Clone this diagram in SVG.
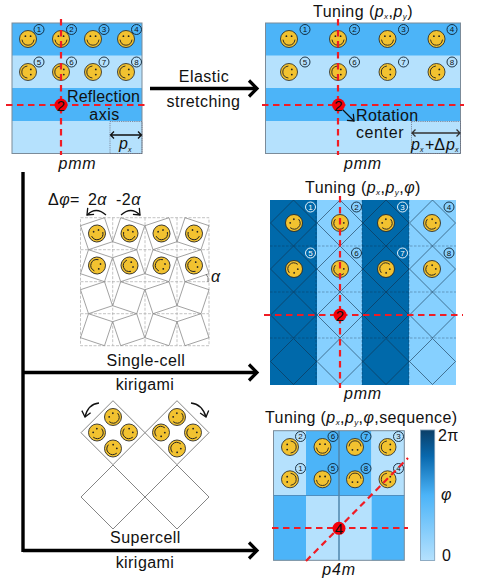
<svg xmlns="http://www.w3.org/2000/svg" width="495" height="585" viewBox="0 0 495 585">
<style>
text{font-family:"Liberation Sans",Arial,sans-serif;fill:#111}
.t{font-size:16px;letter-spacing:.45px}
.i{font-style:italic}
.s{font-size:8px;font-style:italic}
.c{text-anchor:middle}
.b{fill:#4cb4f8}.l{fill:#b5e1fd}.db{fill:#0069aa}.lb{fill:#86d0ff}
.fr{fill:none;stroke:#7b8b99;stroke-width:1}
.red{fill:none;stroke:#f01c24;stroke-width:2.2;stroke-dasharray:6.500 4.500}
.dot{fill:#f5000a}
.num{fill:none;stroke:#0d2233;stroke-width:.9}
.n{font-size:8px;text-anchor:middle}
.w{fill:#fff}.wr{fill:none;stroke:#fff;stroke-width:.9}
.main{fill:none;stroke:#000;stroke-width:3.4;marker-end:url(#big)}
.tiny{fill:none;stroke:#111;stroke-width:1.2;marker-end:url(#small)}
.dotted{fill:none;stroke:#667;stroke-width:.7;stroke-dasharray:1.2 1}
.grid{stroke:#aaa;stroke-width:.7;stroke-dasharray:3 1.5;fill:none}
.kg{fill:none;stroke:#8a8a8a;stroke-width:.8}
</style>
<defs>
<marker id="big" markerUnits="userSpaceOnUse" markerWidth="14" markerHeight="22" refX="11" refY="11" orient="auto"><path d="M3 3L11 11L3 19" fill="none" stroke="#000" stroke-width="3.2"/></marker>
<marker id="small" markerUnits="userSpaceOnUse" markerWidth="10" markerHeight="12" refX="7.5" refY="6" orient="auto"><path d="M2 1.5L7.5 6L2 10.5" fill="none" stroke="#111" stroke-width="1.3"/></marker>
<g id="sm"><circle r="8.500" fill="#f2c230" stroke="#222" stroke-width=".8"/><circle cx="-2.6" cy="-2.8" r=".9" fill="#222"/><circle cx="2.6" cy="-2.8" r=".9" fill="#222"/><path d="M-6 .6Q-5 6.200 0 6.200Q5 6.200 6 .6" fill="none" stroke="#222" stroke-width=".9"/></g>
<path id="da" d="M-23 0L0-23L23 0L0 23Z" fill="none" stroke="#11304a" stroke-opacity=".65" stroke-width=".9"/>
<path id="k1" d="M0 8L24 0L32 24L8 32Z" class="kg"/>
<path id="k2" d="M32 8L8 0L0 24L24 32Z" class="kg"/>
<path id="sd" d="M-32 0L0-32L32 0L0 32Z" fill="none" stroke="#777" stroke-width=".9"/>
</defs>

<g id="panel-a">
<rect class="b" x="12" y="23" width="130" height="33"/><rect class="l" x="12" y="55.500" width="130" height="33"/><rect class="b" x="12" y="88" width="130" height="33"/><rect class="l" x="12" y="121" width="130" height="32.500"/>
<rect class="fr" x="12" y="23" width="130" height="130.500"/>
<use href="#sm" x="28" y="39"/><use href="#sm" x="61" y="39"/><use href="#sm" x="93" y="39"/><use href="#sm" x="126" y="39"/>
<use href="#sm" transform="translate(28 72) rotate(90)"/><use href="#sm" transform="translate(61 72) rotate(90)"/><use href="#sm" transform="translate(93 72) rotate(90)"/><use href="#sm" transform="translate(126 72) rotate(90)"/>
<circle class="num" cx="39" cy="29.500" r="5"/><text class="n" x="39" y="32.300">1</text>
<circle class="num" cx="71.500" cy="29.500" r="5"/><text class="n" x="71.500" y="32.300">2</text>
<circle class="num" cx="104" cy="29.500" r="5"/><text class="n" x="104" y="32.300">3</text>
<circle class="num" cx="136.500" cy="29.500" r="5"/><text class="n" x="136.500" y="32.300">4</text>
<circle class="num" cx="39" cy="62" r="5"/><text class="n" x="39" y="64.800">5</text>
<circle class="num" cx="71.500" cy="62" r="5"/><text class="n" x="71.500" y="64.800">6</text>
<circle class="num" cx="104" cy="62" r="5"/><text class="n" x="104" y="64.800">7</text>
<circle class="num" cx="136.500" cy="62" r="5"/><text class="n" x="136.500" y="64.800">8</text>
<rect class="dotted" x="110" y="121.500" width="32" height="32"/>
<path d="M111 135H141M114 131.500L110.500 135L114 138.500M138 131.500L141.500 135L138 138.500" fill="none" stroke="#111" stroke-width="1.300"/>
<text class="t" x="67" y="102" style="letter-spacing:.2px">Reflection</text>
<text class="t c" x="104.500" y="120">axis</text>
<text class="t i" x="119" y="149">p</text><text class="s" x="128" y="152" style="font-size:7px">x</text>
<path class="red" d="M61 19V155M6 105H149"/>
<circle class="dot" cx="61" cy="105" r="6.500"/><text class="c" x="61" y="110.500" style="font-size:15px">2</text>
<text class="t i c" x="77.500" y="169" style="letter-spacing:.8px">pmm</text>
</g>

<g id="panel-b">
<rect class="b" x="265.500" y="23" width="195" height="33"/><rect class="l" x="265.500" y="55.500" width="195" height="33"/><rect class="b" x="265.500" y="88" width="195" height="33"/><rect class="l" x="265.500" y="121" width="195" height="32.500"/>
<rect class="fr" x="265.500" y="23" width="195" height="130.500"/>
<use href="#sm" x="289" y="39"/><use href="#sm" x="338" y="39"/><use href="#sm" x="387.500" y="39"/><use href="#sm" x="436.500" y="39"/>
<use href="#sm" transform="translate(289 72) rotate(90)"/><use href="#sm" transform="translate(338 72) rotate(90)"/><use href="#sm" transform="translate(387.500 72) rotate(90)"/><use href="#sm" transform="translate(436.500 72) rotate(90)"/>
<circle class="num" cx="305" cy="29.500" r="5"/><text class="n" x="305" y="32.300">1</text>
<circle class="num" cx="354.500" cy="29.500" r="5"/><text class="n" x="354.500" y="32.300">2</text>
<circle class="num" cx="403.500" cy="29.500" r="5"/><text class="n" x="403.500" y="32.300">3</text>
<circle class="num" cx="452" cy="29.500" r="5"/><text class="n" x="452" y="32.300">4</text>
<circle class="num" cx="305" cy="62" r="5"/><text class="n" x="305" y="64.800">5</text>
<circle class="num" cx="354.500" cy="62" r="5"/><text class="n" x="354.500" y="64.800">6</text>
<circle class="num" cx="403.500" cy="62" r="5"/><text class="n" x="403.500" y="64.800">7</text>
<circle class="num" cx="452" cy="62" r="5"/><text class="n" x="452" y="64.800">8</text>
<rect class="dotted" x="411.500" y="121.500" width="49" height="32"/>
<path d="M412 133H460M415.500 129.500L412 133L415.500 136.500M456.500 129.500L460 133L456.500 136.500" fill="none" stroke="#333" stroke-width="1.300"/>
<text class="t" x="356" y="121" style="letter-spacing:.35px">Rotation</text>
<text class="t" x="356" y="138" style="letter-spacing:.6px">center</text>
<text class="i" x="411" y="150" style="font-size:16px">p</text><text class="s" x="420" y="152" style="font-size:7px">x</text><text x="425" y="150" style="font-size:16px">+Δ</text><text class="i" x="446" y="150" style="font-size:16px">p</text><text class="s" x="455" y="152" style="font-size:7px">x</text>
<path class="red" d="M338 19V155M262 105H464"/>
<path class="tiny" d="M342 109L354 121"/>
<circle class="dot" cx="338.500" cy="105" r="6.500"/><text class="c" x="338.500" y="110.500" style="font-size:15px">2</text>
<text class="t i c" x="363" y="169" style="letter-spacing:.8px">pmm</text>
<text class="t" x="313" y="17">Tuning (<tspan class="i">p</tspan><tspan class="s" dy="2">x</tspan><tspan dy="-2">,</tspan><tspan class="i">p</tspan><tspan class="s" dy="2">y</tspan><tspan dy="-2">)</tspan></text>
</g>

<g id="panel-c">
<rect class="db" x="270" y="200" width="47" height="185"/><rect class="lb" x="317" y="200" width="45" height="185"/><rect class="db" x="362" y="200" width="47" height="185"/><rect class="lb" x="409" y="200" width="47" height="185"/>
<path d="M270 246H456M270 292H456M270 338H456M316 200V385M362 200V385M409 200V385" fill="none" stroke="#123" stroke-opacity=".45" stroke-width=".7" stroke-dasharray="2.500 1.500"/>
<use href="#da" x="293.500" y="223"/><use href="#da" x="340" y="223"/><use href="#da" x="386" y="223"/><use href="#da" x="432.500" y="223"/>
<use href="#da" x="293.500" y="269"/><use href="#da" x="340" y="269"/><use href="#da" x="386" y="269"/><use href="#da" x="432.500" y="269"/>
<use href="#da" x="293.500" y="315"/><use href="#da" x="340" y="315"/><use href="#da" x="386" y="315"/><use href="#da" x="432.500" y="315"/>
<use href="#da" x="293.500" y="361.500"/><use href="#da" x="340" y="361.500"/><use href="#da" x="386" y="361.500"/><use href="#da" x="432.500" y="361.500"/>
<use href="#sm" transform="translate(294 223) rotate(-45)"/><use href="#sm" transform="translate(340 223) rotate(45)"/><use href="#sm" transform="translate(386 223) rotate(-45)"/><use href="#sm" transform="translate(432 223) rotate(45)"/>
<use href="#sm" transform="translate(294 269) rotate(135)"/><use href="#sm" transform="translate(340 269) rotate(45)"/><use href="#sm" transform="translate(386 269) rotate(135)"/><use href="#sm" transform="translate(432 269) rotate(45)"/>
<circle class="wr" cx="310.500" cy="207" r="5"/><text class="n w" x="310.500" y="209.800">1</text>
<circle class="num" cx="356.500" cy="207" r="5"/><text class="n" x="356.500" y="209.800">2</text>
<circle class="wr" cx="402.500" cy="207" r="5"/><text class="n w" x="402.500" y="209.800">3</text>
<circle class="num" cx="449" cy="207" r="5"/><text class="n" x="449" y="209.800">4</text>
<circle class="wr" cx="310.500" cy="253" r="5"/><text class="n w" x="310.500" y="255.800">5</text>
<circle class="num" cx="356.500" cy="253" r="5"/><text class="n" x="356.500" y="255.800">6</text>
<circle class="wr" cx="402.500" cy="253" r="5"/><text class="n w" x="402.500" y="255.800">7</text>
<circle class="num" cx="449" cy="253" r="5"/><text class="n" x="449" y="255.800">8</text>
<path class="red" d="M340 196V388M264 315H463"/>
<circle class="dot" cx="340" cy="315" r="6.500"/><text class="c" x="340" y="320.500" style="font-size:15px">2</text>
<text class="t i c" x="363" y="399" style="letter-spacing:.8px">pmm</text>
<text class="t" x="305" y="193">Tuning (<tspan class="i">p</tspan><tspan class="s" dy="2">x</tspan><tspan dy="-2">,</tspan><tspan class="i">p</tspan><tspan class="s" dy="2">y</tspan><tspan dy="-2">,</tspan><tspan class="i">φ</tspan>)</text>
</g>

<g id="single-cell">
<path class="grid" d="M80.500 217.700H209V345.700H80.500ZM80.500 249.700H209M80.500 281.700H209M80.500 313.700H209M112.700 217.700V345.700M145 217.700V345.700M177 217.700V345.700"/>
<use href="#k1" x="80.500" y="217.700"/><use href="#k2" x="112.700" y="217.700"/><use href="#k1" x="145" y="217.700"/><use href="#k2" x="177" y="217.700"/>
<use href="#k2" x="80.500" y="249.700"/><use href="#k1" x="112.700" y="249.700"/><use href="#k2" x="145" y="249.700"/><use href="#k1" x="177" y="249.700"/>
<use href="#k1" x="80.500" y="281.700"/><use href="#k2" x="112.700" y="281.700"/><use href="#k1" x="145" y="281.700"/><use href="#k2" x="177" y="281.700"/>
<use href="#k2" x="80.500" y="313.700"/><use href="#k1" x="112.700" y="313.700"/><use href="#k2" x="145" y="313.700"/><use href="#k1" x="177" y="313.700"/>
<use href="#sm" transform="translate(97 233.500) rotate(-20)"/><use href="#sm" transform="translate(129.500 233.500) rotate(20)"/><use href="#sm" transform="translate(161.500 233.500) rotate(-20)"/><use href="#sm" transform="translate(194 233.500) rotate(20)"/>
<use href="#sm" transform="translate(97 265.500) rotate(110)"/><use href="#sm" transform="translate(129.500 265.500) rotate(70)"/><use href="#sm" transform="translate(161.500 265.500) rotate(110)"/><use href="#sm" transform="translate(194 265.500) rotate(70)"/>
<text class="t" x="48" y="205"><tspan>Δ</tspan><tspan class="i">φ</tspan>=</text>
<text class="t" x="88" y="205">2<tspan class="i">α</tspan></text>
<text class="t" x="116" y="205">-2<tspan class="i">α</tspan></text>
<path class="tiny" d="M106 215Q96 206 87 215"/>
<path class="tiny" d="M121 215Q131 206 140 215"/>
<path d="M206 274Q209 277 208 282" fill="none" stroke="#444" stroke-width=".7"/>
<text class="t i" x="211" y="282">α</text>
<text class="t c" x="146" y="366">Single-cell</text>
<text class="t c" x="145" y="390">kirigami</text>
</g>

<g id="supercell">
<use href="#sd" x="113" y="432.700"/><use href="#sd" x="177" y="432.700"/><use href="#sd" x="113" y="497"/><use href="#sd" x="177" y="497"/>
<use href="#sm" transform="translate(113 417) rotate(-45)"/><use href="#sm" transform="translate(97 432.500) rotate(-45)"/><use href="#sm" transform="translate(129 432.500) rotate(45)"/><use href="#sm" transform="translate(113 448.500) rotate(45)"/>
<use href="#sm" transform="translate(177 417) rotate(-45)"/><use href="#sm" transform="translate(161 432.500) rotate(135)"/><use href="#sm" transform="translate(193 432.500) rotate(45)"/><use href="#sm" transform="translate(177 448.500) rotate(135)"/>
<path class="tiny" d="M99 403Q88 404 85 417" style="stroke-width:1.400"/>
<path class="tiny" d="M191 403Q202 404 206 417" style="stroke-width:1.400"/>
<text class="t c" x="145.500" y="543">Supercell</text>
<text class="t c" x="145" y="568">kirigami</text>
</g>

<g id="panel-d">
<rect class="l" x="273.500" y="430.700" width="32.700" height="65"/><rect class="b" x="306" y="430.700" width="65.500" height="65"/><rect class="l" x="371.500" y="430.700" width="32.800" height="65"/>
<rect class="b" x="273.500" y="495.500" width="32.700" height="65"/><rect class="l" x="306" y="495.500" width="65.500" height="65"/><rect class="b" x="371.500" y="495.500" width="32.800" height="65"/>
<rect class="fr" x="273.500" y="430.700" width="130.800" height="129.600"/>
<path d="M273.500 495.500H404.300" stroke="#4f8fc0" stroke-width="1" fill="none"/>
<path d="M339 430.700V560.300" stroke="#4f86ad" stroke-width="1.500" fill="none"/>
<use href="#sm" transform="translate(290 447) rotate(-90)"/><use href="#sm" x="322.500" y="447"/><use href="#sm" transform="translate(355 447) rotate(180)"/><use href="#sm" transform="translate(387.500 447) rotate(90)"/>
<use href="#sm" transform="translate(290 479.300) rotate(-90)"/><use href="#sm" x="322.500" y="479.300"/><use href="#sm" transform="translate(355 479.300) rotate(180)"/><use href="#sm" transform="translate(387.500 479.300) rotate(90)"/>
<circle class="num" cx="300.500" cy="436.500" r="5"/><text class="n" x="300.500" y="439.300">2</text>
<circle class="num" cx="333" cy="436.500" r="5"/><text class="n" x="333" y="439.300">6</text>
<circle class="num" cx="366" cy="436.500" r="5"/><text class="n" x="366" y="439.300">7</text>
<circle class="num" cx="398.500" cy="436.500" r="5"/><text class="n" x="398.500" y="439.300">3</text>
<circle class="num" cx="300.500" cy="468.500" r="5"/><text class="n" x="300.500" y="471.300">1</text>
<circle class="num" cx="333" cy="468.500" r="5"/><text class="n" x="333" y="471.300">5</text>
<circle class="num" cx="366" cy="468.500" r="5"/><text class="n" x="366" y="471.300">8</text>
<circle class="num" cx="398.500" cy="468.500" r="5"/><text class="n" x="398.500" y="471.300">4</text>
<path class="red" d="M272 528H408M306 561L408 458"/>
<circle class="dot" cx="339" cy="528.300" r="6.500"/><text class="c" x="339" y="533.800" style="font-size:15px">4</text>
<text class="t i c" x="339" y="575" style="letter-spacing:.8px">p4m</text>
<text class="t" x="265" y="423" style="letter-spacing:.4px">Tuning (<tspan class="i">p</tspan><tspan class="s" dy="2">x</tspan><tspan dy="-2">,</tspan><tspan class="i">p</tspan><tspan class="s" dy="2">y</tspan><tspan dy="-2">,</tspan><tspan class="i">φ</tspan>,sequence)</text>
</g>

<g id="colorbar">
<linearGradient id="cb" x1="0" y1="0" x2="0" y2="1"><stop offset="0" stop-color="#0b3f68"/><stop offset=".2" stop-color="#0868ad"/><stop offset=".5" stop-color="#4cb4f8"/><stop offset="1" stop-color="#b5e1fd"/></linearGradient>
<rect x="420.500" y="430" width="14.200" height="130.500" fill="url(#cb)" stroke="#7b9bb5" stroke-width=".8"/>
<text class="t" x="438" y="441">2π</text>
<text class="t i" x="441" y="500">φ</text>
<text class="t" x="442" y="561">0</text>
</g>

<g id="connectors">
<path class="main" d="M150 88.500H257"/>
<path d="M23 172V552" fill="none" stroke="#000" stroke-width="3.400"/>
<path class="main" d="M23 372.500H257"/>
<path class="main" d="M23 550.500H257"/>
<text class="t c" x="204" y="82">Elastic</text>
<text class="t c" x="203.500" y="107">stretching</text>
</g>
</svg>
